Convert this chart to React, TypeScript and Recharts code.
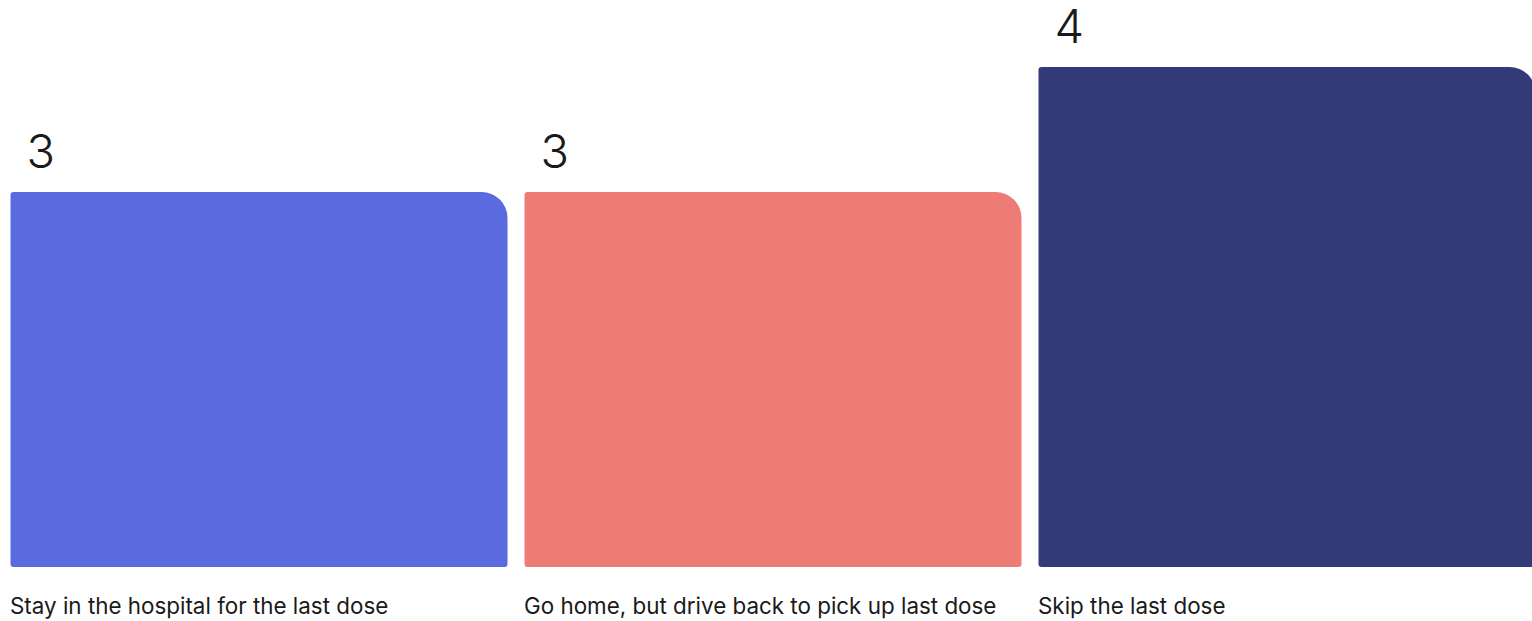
import React from "react";
import { BarChart, Bar, XAxis, YAxis, Cell, LabelList } from "recharts";

if (typeof document !== "undefined") document.body.style.margin = "0";

const categories = [
  "Stay in the hospital for the last dose",
  "Go home, but drive back to pick up last dose",
  "Skip the last dose",
];
const values = [3, 3, 4];
const colors = ["#5A6ADF", "#EE7C76", "#333A78"];

const data = categories.map((name, i) => ({ name, value: values[i] }));

const BAR_SIZE = 497;
const PLOT_BOTTOM = 567;

const CategoryTick = (props: any) => {
  const { x, payload } = props;
  return (
    <text
      x={x - BAR_SIZE / 2}
      y={PLOT_BOTTOM + 47}
      fill="#1a1a1a"
      fontSize={22.4}
      fontFamily="Inter, sans-serif"
      textAnchor="start"
    >
      {payload.value}
    </text>
  );
};

const ValueLabel = (props: any) => {
  const { x, y, value } = props;
  return (
    <text
      x={x + 16}
      y={y - 24}
      fill="#1a1a1a"
      fontSize={47}
      fontWeight={300}
      fontFamily="Inter, sans-serif"
      textAnchor="start"
    >
      {value}
    </text>
  );
};

const App = () => (
  <div style={{ width: 1532, height: 621, overflow: "hidden", background: "#fff" }}>
    <BarChart
      width={1544}
      height={621}
      data={data}
      margin={{ top: 67, right: 0.5, left: 1.5, bottom: 0 }}
      style={{ overflow: "visible" }}
    >
      <XAxis
        dataKey="name"
        axisLine={false}
        tickLine={false}
        height={54}
        interval={0}
        tick={<CategoryTick />}
      />
      <YAxis hide domain={[0, 4]} />
      <Bar
        dataKey="value"
        barSize={BAR_SIZE}
        radius={[3, 26, 3, 3]}
        isAnimationActive={false}
      >
        {data.map((d, i) => (
          <Cell key={d.name} fill={colors[i]} />
        ))}
        <LabelList dataKey="value" content={<ValueLabel />} />
      </Bar>
    </BarChart>
  </div>
);

export default App;
